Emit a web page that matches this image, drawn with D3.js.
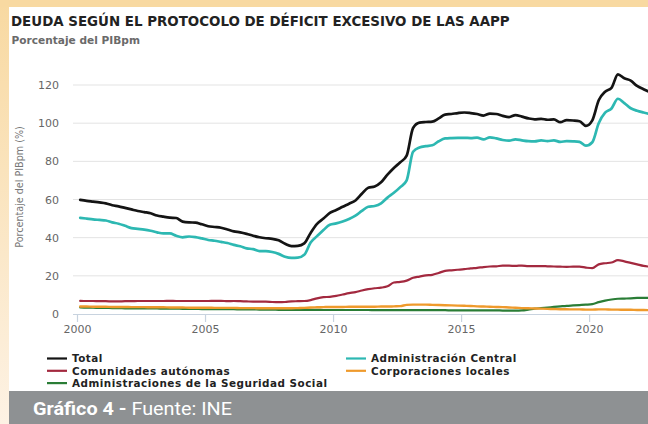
<!DOCTYPE html>
<html>
<head>
<meta charset="utf-8">
<script src="https://cdn.jsdelivr.net/npm/d3@7"></script>
<style>
  html, body { margin: 0; padding: 0; background: #fff; }
  svg { display: block; }
</style>
</head>
<body>
<svg id="chart" width="648" height="424"></svg>
<script>
// ---------- DATA ----------
const years = [2000,2001,2002,2003,2004,2005,2006,2007,2008,2009,2010,2011,2012,2013,2014,2015,2016,2017,2018,2019,2020,2021,2022];
const yTicks = [0, 20, 40, 60, 80, 100, 120];
const xTicks = [2000, 2005, 2010, 2015, 2020];

const title = "DEUDA SEGÚN EL PROTOCOLO DE DÉFICIT EXCESIVO DE LAS AAPP";
const subtitle = "Porcentaje del PIBpm";
const yTitle = "Porcentaje del PIBpm (%)";
const sourceBold = "Gráfico 4 -";
const sourceText = " Fuente: INE";

const seriesNames = ["Total", "Administración Central", "Comunidades autónomas", "Corporaciones locales", "Administraciones de la Seguridad Social"];

// quarterly values (T1..T4 per year, 2022 up to T2)
const total = [
  59.8,59.3,58.9,58.5, 58.0,57.0,56.4,55.6, 54.8,54.0,53.4,52.8, 51.6,51.0,50.5,50.3,
  48.4,48.0,47.9,47.0, 46.0,45.6,45.2,44.3, 43.3,42.8,42.0,41.0, 40.2,39.7,39.4,38.6,
  36.8,35.6,35.7,37.0, 42.5,47.2,50.0,53.0, 54.5,56.2,57.8,59.5, 63.0,66.2,66.8,69.0,
  73.0,76.5,79.5,83.0, 97.5,100.3,100.6,100.8, 102.5,104.5,104.8,105.3, 105.6,105.3,104.8,104.0,
  105.0,104.8,103.8,103.2, 104.2,103.4,102.5,102.0, 102.3,101.8,102.0,100.5, 101.6,101.4,101.0,98.6,
  101.5,112.0,116.5,118.5, 125.6,123.5,122.3,119.5, 117.8,116.2];
const central = [
  50.4,50.0,49.6,49.3, 49.0,48.0,47.3,46.2, 45.0,44.6,44.2,43.6, 42.8,42.2,42.2,41.0,
  40.2,40.6,40.3,39.6, 38.8,38.4,37.8,37.2, 36.2,35.5,34.4,34.0, 33.0,33.0,32.5,31.5,
  30.0,29.4,29.5,31.0, 37.5,40.8,44.0,46.8, 47.5,48.5,49.8,51.5, 54.0,56.2,56.6,58.0,
  61.0,63.5,66.5,70.0, 85.0,87.3,88.0,88.4, 90.5,92.0,92.2,92.3, 92.3,92.2,92.4,91.5,
  92.6,92.0,91.2,90.8, 91.5,91.0,90.6,90.5, 91.0,90.6,91.0,90.2, 90.6,90.5,90.2,88.2,
  90.0,100.0,105.5,107.7, 112.8,110.5,107.8,106.5, 105.6,104.8];
const ccaa = [
  6.9,6.8,6.8,6.7, 6.7,6.6,6.6,6.7, 6.7,6.8,6.8,6.8, 6.8,6.8,6.9,6.8,
  6.8,6.8,6.8,6.8, 6.8,6.9,6.9,6.7, 6.8,6.7,6.6,6.5, 6.5,6.5,6.3,6.2,
  6.3,6.6,6.7,6.8, 7.3,8.2,8.8,9.0, 9.5,10.2,10.9,11.5, 12.3,13.0,13.5,13.8,
  14.5,16.5,16.8,17.5, 19.0,19.6,20.2,20.5, 21.5,22.6,22.9,23.2, 23.5,23.9,24.2,24.6,
  24.9,25.0,25.3,25.3, 25.2,25.4,25.1,25.1, 25.1,25.0,24.9,24.8, 24.7,24.8,24.8,24.3,
  24.0,26.0,26.6,27.0, 28.2,27.6,26.8,26.0, 25.2,24.8];
const ccll = [
  3.9,3.9,3.8,3.8, 3.8,3.7,3.7,3.7, 3.6,3.6,3.6,3.5, 3.5,3.5,3.4,3.4,
  3.4,3.3,3.3,3.3, 3.3,3.2,3.2,3.2, 3.2,3.1,3.1,3.1, 3.0,3.0,3.0,3.0,
  3.0,3.0,3.1,3.2, 3.4,3.5,3.6,3.7, 3.7,3.7,3.8,3.8, 3.8,3.8,3.8,3.9,
  3.9,4.0,4.1,4.8, 4.9,4.9,4.9,4.8, 4.7,4.6,4.5,4.4, 4.3,4.2,4.0,3.9,
  3.8,3.7,3.6,3.4, 3.3,3.1,3.0,2.9, 2.8,2.7,2.6,2.5, 2.5,2.4,2.4,2.3,
  2.3,2.4,2.4,2.3, 2.3,2.2,2.2,2.1, 2.1,2.0];
const ss = [
  3.4,3.3,3.3,3.2, 3.2,3.1,3.1,3.0, 3.0,3.0,2.9,2.9, 2.9,2.8,2.8,2.8,
  2.7,2.7,2.7,2.6, 2.6,2.6,2.5,2.5, 2.5,2.4,2.4,2.4, 2.3,2.3,2.3,2.2,
  2.2,2.2,2.2,2.2, 2.2,2.2,2.1,2.1, 2.1,2.1,2.1,2.1, 2.1,2.1,2.0,2.0,
  2.0,2.0,2.0,2.0, 2.0,2.0,2.0,2.0, 2.0,2.0,1.9,1.9, 1.9,1.9,1.9,1.9,
  1.9,1.9,1.8,1.8, 1.8,1.9,2.3,2.8, 3.1,3.4,3.7,4.0, 4.3,4.5,4.7,4.9,
  5.2,6.2,7.0,7.6, 8.0,8.1,8.2,8.4, 8.5,8.5];

// ---------- STYLE ----------
const colors = {
  "Total": "#141414",
  "Administración Central": "#2db8b2",
  "Comunidades autónomas": "#a3293f",
  "Corporaciones locales": "#ef9a2c",
  "Administraciones de la Seguridad Social": "#2a7d36"
};
const widths = {
  "Total": 2.7,
  "Administración Central": 2.7,
  "Comunidades autónomas": 2.2,
  "Corporaciones locales": 2.4,
  "Administraciones de la Seguridad Social": 2.2
};

const valuesByName = {
  "Total": total,
  "Administración Central": central,
  "Comunidades autónomas": ccaa,
  "Corporaciones locales": ccll,
  "Administraciones de la Seguridad Social": ss
};

// quarter mid-points
const dates = [];
years.forEach(y => [0,1,2,3].forEach(q => dates.push(y + (q + 0.5) / 4)));

const svg = d3.select("#chart");
const W = 648, H = 424;

// background frame
const defs = svg.append("defs");
const grad = defs.append("linearGradient").attr("id", "leftGrad").attr("x1", 0).attr("y1", 0).attr("x2", 0).attr("y2", 1);
grad.append("stop").attr("offset", "0%").attr("stop-color", "#f8d9a1");
grad.append("stop").attr("offset", "100%").attr("stop-color", "#fdf2e4");
svg.append("rect").attr("x", 0).attr("y", 0).attr("width", W).attr("height", H).attr("fill", "url(#leftGrad)");
svg.append("rect").attr("x", 0).attr("y", 0).attr("width", W).attr("height", 7).attr("fill", "#f8d9a1");
svg.append("rect").attr("x", 9).attr("y", 7).attr("width", W - 9).attr("height", H - 7).attr("fill", "#ffffff");

// footer
svg.append("rect").attr("x", 9).attr("y", 391).attr("width", W - 9).attr("height", H - 391).attr("fill", "#8e9193");
const foot = svg.append("text").attr("x", 33).attr("y", 414.5)
  .attr("fill", "#ffffff").attr("font-family", "Roboto, 'Open Sans', sans-serif").attr("font-size", 18.5)
  .attr("textLength", 199).attr("lengthAdjust", "spacingAndGlyphs");
foot.append("tspan").attr("font-weight", "bold").text(sourceBold);
foot.append("tspan").attr("font-weight", "normal").text(sourceText);

// titles
svg.append("text").attr("x", 11).attr("y", 26.3).attr("fill", "#222")
  .attr("font-family", "'DejaVu Sans', Verdana, sans-serif").attr("font-weight", "bold").attr("font-size", 13.4)
  .text(title);
svg.append("text").attr("x", 11.5).attr("y", 44).attr("fill", "#6a6a6a")
  .attr("font-family", "'DejaVu Sans', Verdana, sans-serif").attr("font-weight", "bold").attr("font-size", 10.6)
  .text(subtitle);

// scales
const x = d3.scaleLinear().domain([2000, 2022.3]).range([77, 648]);
const y = d3.scaleLinear().domain([0, 120]).range([314, 85]);

// gridlines
svg.append("g").selectAll("line").data(yTicks.filter(d => d > 0)).join("line")
  .attr("x1", 73).attr("x2", W).attr("y1", d => y(d)).attr("y2", d => y(d))
  .attr("stroke", "#e3e3e3").attr("stroke-width", 1);

// y axis labels
const yAxis = d3.axisLeft(y).tickValues(yTicks).tickSize(0).tickPadding(0);
const gy = svg.append("g").attr("transform", "translate(59,0)").call(yAxis);
gy.select(".domain").remove();
gy.selectAll("text").attr("font-family", "'DejaVu Sans', Verdana, sans-serif").attr("font-size", 11).attr("fill", "#666");

// y title
svg.append("text").attr("transform", "translate(22.5,187) rotate(-90)")
  .attr("text-anchor", "middle").attr("font-family", "'DejaVu Sans', Verdana, sans-serif")
  .attr("font-size", 9.6).attr("fill", "#777").text(yTitle);

// x axis
const xAxis = d3.axisBottom(x).tickValues(xTicks).tickFormat(d3.format("d")).tickSize(8).tickPadding(3);
const gx = svg.append("g").attr("transform", "translate(0,314)").call(xAxis);
gx.select(".domain").attr("d", `M73,0.5H${W}`).attr("stroke", "#c8d3df").attr("stroke-width", 1.2);
gx.selectAll(".tick line").attr("stroke", "#c8d3df").attr("stroke-width", 1.2);
gx.selectAll("text").attr("font-family", "'DejaVu Sans', Verdana, sans-serif").attr("font-size", 11).attr("fill", "#666");

// lines
defs.append("clipPath").attr("id", "plotClip").append("rect").attr("x", 73).attr("y", 60).attr("width", W - 73).attr("height", 270);
const line = d3.line().x(d => x(d[0])).y(d => y(d[1])).curve(d3.curveMonotoneX);
const drawOrder = ["Administraciones de la Seguridad Social", "Corporaciones locales", "Comunidades autónomas", "Administración Central", "Total"];
const gl = svg.append("g").attr("clip-path", "url(#plotClip)");
drawOrder.forEach(name => {
  const vals = valuesByName[name];
  const pts = vals.map((v, i) => [dates[i], v]);
  gl.append("path").datum(pts).attr("d", line).attr("fill", "none")
    .attr("stroke", colors[name]).attr("stroke-width", widths[name])
    .attr("stroke-linejoin", "round").attr("stroke-linecap", "round");
});

// legend
const legendItems = [
  {name: "Total", col: 0, row: 0},
  {name: "Comunidades autónomas", col: 0, row: 1},
  {name: "Administraciones de la Seguridad Social", col: 0, row: 2},
  {name: "Administración Central", col: 1, row: 0},
  {name: "Corporaciones locales", col: 1, row: 1}
];
const colX = [47, 346];
const rowY = [358.5, 370.8, 383.1];
const lg = svg.append("g");
legendItems.forEach(it => {
  const g = lg.append("g").attr("transform", `translate(${colX[it.col]},${rowY[it.row]})`);
  g.append("line").attr("x1", 0).attr("x2", 20).attr("y1", 0).attr("y2", 0)
    .attr("stroke", colors[it.name]).attr("stroke-width", 2.2);
  g.append("text").attr("x", 25).attr("y", 3.8)
    .attr("font-family", "'DejaVu Sans', Verdana, sans-serif").attr("font-weight", "bold")
    .attr("font-size", 10.4).attr("letter-spacing", 0.5).attr("fill", "#222").text(it.name);
});
</script>
</body>
</html>
